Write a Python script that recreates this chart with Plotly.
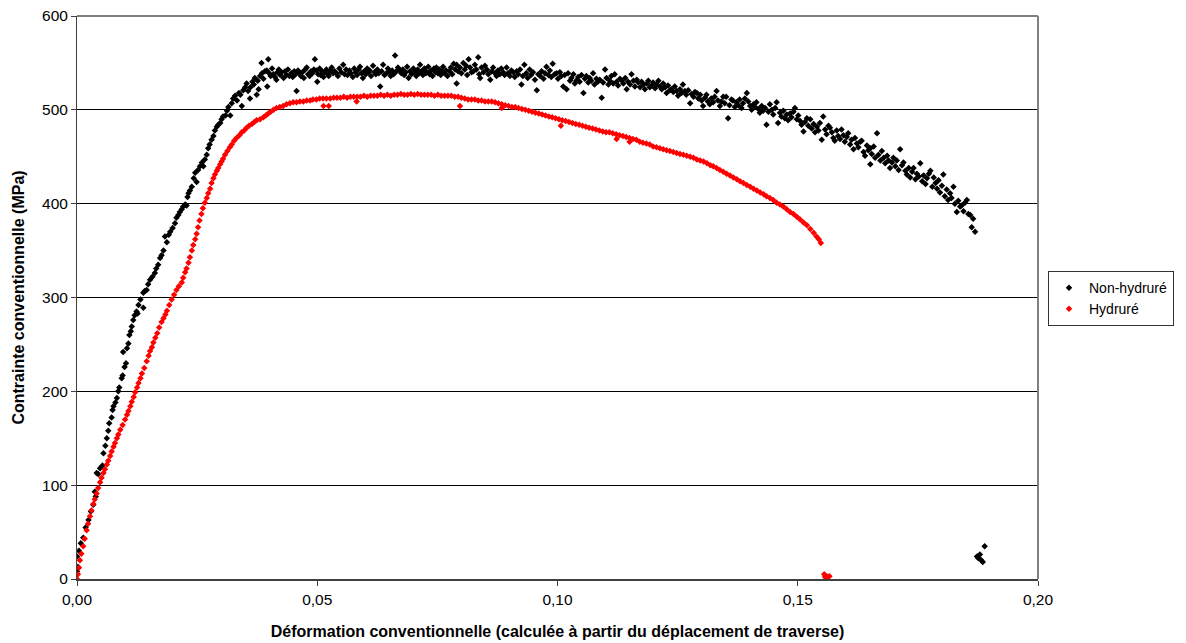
import plotly.graph_objects as go

# ---- Non-hydruré (black) ----
nh_x = [0.0000, 0.0000, 0.0002, 0.0004, 0.0008, 0.0013, 0.0018, 0.0024, 0.0029, 0.0034,
        0.0037, 0.0039, 0.0041, 0.0044, 0.0048, 0.0053, 0.0055, 0.0059, 0.0062, 0.0065,
        0.0067, 0.0072, 0.0074, 0.0076, 0.0080, 0.0083, 0.0086, 0.0088, 0.0093, 0.0095,
        0.0096, 0.0099, 0.0102, 0.0104, 0.0107, 0.0109, 0.0112, 0.0114, 0.0117, 0.0120,
        0.0124, 0.0126, 0.0128, 0.0132, 0.0138, 0.0138, 0.0141, 0.0145, 0.0148, 0.0152,
        0.0157, 0.0162, 0.0165, 0.0169, 0.0173, 0.0176, 0.0180, 0.0183, 0.0187, 0.0191,
        0.0194, 0.0199, 0.0204, 0.0207, 0.0211, 0.0214, 0.0218, 0.0221, 0.0225, 0.0228,
        0.0230, 0.0232, 0.0235, 0.0239, 0.0243, 0.0246, 0.0249, 0.0252, 0.0256, 0.0260,
        0.0263, 0.0266, 0.0270, 0.0273, 0.0276, 0.0280, 0.0284, 0.0287, 0.0291, 0.0294,
        0.0298, 0.0301, 0.0304, 0.0309, 0.0312, 0.0315, 0.0319, 0.0322, 0.0325, 0.0329,
        0.0333, 0.0337, 0.0340, 0.0343, 0.0346, 0.0350, 0.0353, 0.0356, 0.0360, 0.0361,
        0.0365, 0.0368, 0.0370, 0.0374, 0.0376, 0.0378, 0.0381, 0.0384, 0.0385, 0.0388,
        0.0391, 0.0395, 0.0396, 0.0398, 0.0400, 0.0403, 0.0406, 0.0409, 0.0412, 0.0415,
        0.0417, 0.0420, 0.0423, 0.0426, 0.0430, 0.0433, 0.0436, 0.0439, 0.0442, 0.0446,
        0.0449, 0.0452, 0.0455, 0.0457, 0.0460, 0.0463, 0.0466, 0.0469, 0.0472, 0.0475,
        0.0478, 0.0481, 0.0484, 0.0487, 0.0490, 0.0493, 0.0495, 0.0498, 0.0500, 0.0502,
        0.0505, 0.0507, 0.0510, 0.0513, 0.0516, 0.0519, 0.0522, 0.0524, 0.0527, 0.0530,
        0.0533, 0.0536, 0.0540, 0.0543, 0.0546, 0.0550, 0.0554, 0.0557, 0.0560, 0.0563,
        0.0567, 0.0570, 0.0574, 0.0577, 0.0580, 0.0583, 0.0586, 0.0589, 0.0592, 0.0595,
        0.0598, 0.0601, 0.0604, 0.0607, 0.0609, 0.0612, 0.0616, 0.0619, 0.0622, 0.0625,
        0.0628, 0.0631, 0.0634, 0.0637, 0.0640, 0.0644, 0.0647, 0.0650, 0.0653, 0.0656,
        0.0659, 0.0662, 0.0665, 0.0668, 0.0672, 0.0675, 0.0678, 0.0681, 0.0684, 0.0687,
        0.0690, 0.0693, 0.0696, 0.0700, 0.0703, 0.0706, 0.0709, 0.0712, 0.0714, 0.0717,
        0.0720, 0.0723, 0.0726, 0.0728, 0.0731, 0.0734, 0.0737, 0.0740, 0.0743, 0.0746,
        0.0748, 0.0751, 0.0754, 0.0757, 0.0760, 0.0762, 0.0765, 0.0768, 0.0771, 0.0775,
        0.0778, 0.0781, 0.0784, 0.0787, 0.0790, 0.0790, 0.0793, 0.0797, 0.0800, 0.0804,
        0.0807, 0.0810, 0.0812, 0.0815, 0.0818, 0.0821, 0.0825, 0.0828, 0.0831, 0.0835,
        0.0837, 0.0839, 0.0842, 0.0846, 0.0849, 0.0853, 0.0856, 0.0860, 0.0863, 0.0866,
        0.0870, 0.0873, 0.0876, 0.0880, 0.0883, 0.0887, 0.0890, 0.0894, 0.0897, 0.0901,
        0.0904, 0.0908, 0.0911, 0.0915, 0.0918, 0.0922, 0.0925, 0.0928, 0.0931, 0.0935,
        0.0938, 0.0942, 0.0945, 0.0949, 0.0953, 0.0957, 0.0960, 0.0964, 0.0967, 0.0971,
        0.0974, 0.0977, 0.0981, 0.0984, 0.0987, 0.0990, 0.0994, 0.0998, 0.1001, 0.1005,
        0.1008, 0.1012, 0.1015, 0.1019, 0.1022, 0.1026, 0.1029, 0.1033, 0.1036, 0.1039,
        0.1043, 0.1046, 0.1050, 0.1054, 0.1057, 0.1060, 0.1064, 0.1067, 0.1070, 0.1074,
        0.1077, 0.1081, 0.1084, 0.1088, 0.1092, 0.1095, 0.1099, 0.1102, 0.1106, 0.1109,
        0.1112, 0.1116, 0.1119, 0.1123, 0.1126, 0.1130, 0.1134, 0.1137, 0.1141, 0.1144,
        0.1147, 0.1151, 0.1154, 0.1158, 0.1161, 0.1165, 0.1168, 0.1172, 0.1175, 0.1179,
        0.1182, 0.1186, 0.1189, 0.1192, 0.1196, 0.1199, 0.1203, 0.1206, 0.1210, 0.1213,
        0.1217, 0.1220, 0.1224, 0.1227, 0.1230, 0.1234, 0.1237, 0.1241, 0.1244, 0.1248,
        0.1251, 0.1255, 0.1258, 0.1261, 0.1265, 0.1268, 0.1272, 0.1276, 0.1279, 0.1283,
        0.1286, 0.1290, 0.1293, 0.1297, 0.1300, 0.1303, 0.1307, 0.1310, 0.1313, 0.1317,
        0.1320, 0.1324, 0.1327, 0.1331, 0.1334, 0.1338, 0.1341, 0.1345, 0.1348, 0.1351,
        0.1355, 0.1358, 0.1362, 0.1365, 0.1369, 0.1372, 0.1376, 0.1379, 0.1383, 0.1386,
        0.1390, 0.1394, 0.1397, 0.1401, 0.1404, 0.1408, 0.1411, 0.1414, 0.1418, 0.1421,
        0.1425, 0.1428, 0.1432, 0.1435, 0.1439, 0.1442, 0.1446, 0.1449, 0.1453, 0.1456,
        0.1459, 0.1463, 0.1466, 0.1470, 0.1473, 0.1477, 0.1480, 0.1484, 0.1487, 0.1491,
        0.1494, 0.1498, 0.1501, 0.1505, 0.1508, 0.1512, 0.1515, 0.1519, 0.1522, 0.1526,
        0.1529, 0.1533, 0.1536, 0.1540, 0.1543, 0.1546, 0.1550, 0.1553, 0.1557, 0.1560,
        0.1564, 0.1567, 0.1571, 0.1574, 0.1577, 0.1581, 0.1584, 0.1588, 0.1591, 0.1595,
        0.1598, 0.1602, 0.1605, 0.1609, 0.1612, 0.1616, 0.1619, 0.1623, 0.1626, 0.1630,
        0.1633, 0.1637, 0.1640, 0.1644, 0.1647, 0.1651, 0.1651, 0.1654, 0.1658, 0.1661,
        0.1665, 0.1668, 0.1672, 0.1675, 0.1679, 0.1682, 0.1686, 0.1689, 0.1692, 0.1696,
        0.1699, 0.1703, 0.1706, 0.1710, 0.1713, 0.1717, 0.1720, 0.1724, 0.1727, 0.1731,
        0.1734, 0.1738, 0.1741, 0.1745, 0.1748, 0.1752, 0.1755, 0.1759, 0.1762, 0.1766,
        0.1769, 0.1773, 0.1776, 0.1780, 0.1783, 0.1787, 0.1790, 0.1793, 0.1796, 0.1800,
        0.1803, 0.1806, 0.1810, 0.1813, 0.1817, 0.1820, 0.1824, 0.1827, 0.1831, 0.1834,
        0.1838, 0.1841, 0.1845, 0.1848, 0.1852, 0.1855, 0.1859, 0.1862, 0.1865, 0.1869,
        0.1873, 0.1876, 0.1879, 0.1882, 0.1885, 0.1889]
nh_y = [8, 24, 13, 30, 38, 44, 55, 63, 72, 79,
        93, 88, 113, 112, 118, 121, 134, 142, 150, 158,
        166, 172, 180, 184, 188, 193, 200, 204, 214, 217,
        242, 226, 230, 246, 251, 260, 264, 269, 276, 281,
        285, 283, 292, 298, 289, 305, 307, 308, 314, 319,
        322, 326, 331, 335, 342, 345, 350, 365, 359, 367,
        370, 374, 379, 385, 388, 391, 394, 397, 399, 398,
        407, 411, 414, 418, 427, 433, 423, 436, 440, 444,
        440, 447, 452, 459, 463, 468, 472, 478, 482, 484,
        486, 490, 493, 494, 499, 503, 494, 507, 512, 515,
        510, 518, 516, 504, 521, 524, 528, 520, 512, 524,
        530, 527, 534, 516, 531, 522, 536, 550, 539, 533,
        541, 542, 525, 554, 539, 536, 544, 538, 535, 532,
        540, 543, 537, 540, 534, 541, 537, 543, 536, 539,
        535, 541, 538, 520, 542, 539, 536, 540, 534, 543,
        545, 538, 536, 541, 539, 543, 554, 542, 530, 538,
        544, 537, 541, 535, 540, 543, 538, 536, 542, 545,
        539, 541, 539, 536, 544, 540, 548, 538, 543, 537,
        542, 539, 535, 544, 540, 537, 543, 546, 539, 534,
        541, 538, 544, 540, 542, 536, 547, 540, 538, 543,
        539, 525, 541, 548, 537, 539, 544, 540, 536, 542,
        538, 558, 541, 545, 542, 539, 543, 537, 540, 546,
        534, 541, 538, 544, 540, 536, 543, 539, 548, 541,
        537, 544, 539, 540, 546, 538, 542, 536, 544, 540,
        545, 539, 543, 537, 541, 546, 539, 542, 536, 541,
        545, 538, 549, 543, 528, 548, 541, 545, 539, 550,
        543, 547, 537, 554, 545, 540, 541, 548, 543, 556,
        538, 534, 545, 540, 547, 543, 538, 532, 541, 545,
        539, 536, 542, 538, 544, 540, 537, 545, 539, 536,
        542, 540, 535, 541, 538, 543, 527, 536, 548, 539,
        534, 543, 537, 540, 532, 521, 538, 536, 541, 533,
        539, 546, 537, 542, 535, 549, 538, 539, 533, 540,
        536, 525, 537, 522, 539, 531, 534, 538, 528, 531,
        535, 530, 537, 518, 533, 536, 529, 534, 531, 539,
        527, 533, 530, 532, 513, 529, 543, 534, 527, 531,
        536, 528, 538, 530, 526, 533, 531, 528, 534, 522,
        530, 527, 538, 531, 525, 532, 529, 524, 530, 527,
        522, 528, 531, 524, 526, 529, 523, 527, 531, 525,
        522, 528, 524, 518, 526, 521, 522, 519, 525, 520,
        515, 522, 518, 527, 520, 516, 521, 507, 517, 514,
        519, 518, 512, 516, 510, 504, 513, 516, 509, 506,
        512, 508, 514, 520, 510, 504, 509, 514, 507, 514,
        491, 505, 511, 510, 503, 508, 505, 511, 502, 507,
        512, 518, 509, 504, 500, 506, 503, 508, 501, 497,
        504, 499, 502, 484, 498, 506, 500, 495, 502, 508,
        486, 497, 493, 499, 491, 495, 489, 496, 492, 498,
        502, 490, 494, 488, 484, 477, 487, 491, 483, 490,
        480, 485, 476, 482, 478, 486, 468, 493, 479, 474,
        483, 481, 476, 470, 467, 478, 472, 469, 479, 473,
        466, 471, 475, 463, 468, 458, 470, 464, 460, 466,
        467, 455, 451, 462, 457, 459, 442, 453, 461, 449,
        475, 452, 446, 456, 449, 443, 451, 446, 438, 444,
        449, 440, 446, 436, 458, 441, 444, 435, 431, 438,
        428, 434, 438, 426, 432, 429, 443, 424, 430, 421,
        427, 432, 435, 418, 428, 422, 416, 425, 412, 419,
        431, 408, 415, 404, 411, 406, 418, 400, 391, 403,
        397, 398, 392, 401, 404, 389, 388, 375, 384, 370,
        24, 22, 26, 20, 18, 35]

# ---- Hydruré (red) ----
h_x = [0.0000, 0.0002, 0.0004, 0.0006, 0.0009, 0.0013, 0.0016, 0.0020, 0.0023, 0.0027,
       0.0030, 0.0034, 0.0037, 0.0041, 0.0044, 0.0048, 0.0051, 0.0055, 0.0058, 0.0062,
       0.0065, 0.0069, 0.0072, 0.0076, 0.0079, 0.0083, 0.0086, 0.0090, 0.0095, 0.0100,
       0.0104, 0.0107, 0.0111, 0.0114, 0.0118, 0.0121, 0.0125, 0.0128, 0.0132, 0.0135,
       0.0140, 0.0145, 0.0149, 0.0152, 0.0156, 0.0159, 0.0163, 0.0167, 0.0171, 0.0176,
       0.0180, 0.0184, 0.0187, 0.0192, 0.0197, 0.0202, 0.0207, 0.0212, 0.0218, 0.0221,
       0.0225, 0.0228, 0.0232, 0.0235, 0.0239, 0.0242, 0.0246, 0.0249, 0.0252, 0.0255,
       0.0259, 0.0262, 0.0266, 0.0270, 0.0273, 0.0277, 0.0280, 0.0284, 0.0287, 0.0291,
       0.0294, 0.0298, 0.0301, 0.0304, 0.0308, 0.0313, 0.0318, 0.0322, 0.0327, 0.0332,
       0.0338, 0.0343, 0.0348, 0.0353, 0.0358, 0.0364, 0.0369, 0.0374, 0.0381, 0.0388,
       0.0393, 0.0398, 0.0403, 0.0409, 0.0415, 0.0422, 0.0429, 0.0436, 0.0443, 0.0450,
       0.0457, 0.0464, 0.0471, 0.0478, 0.0485, 0.0491, 0.0498, 0.0505, 0.0513, 0.0512,
       0.0519, 0.0524, 0.0527, 0.0534, 0.0541, 0.0548, 0.0555, 0.0562, 0.0569, 0.0576,
       0.0582, 0.0583, 0.0590, 0.0597, 0.0604, 0.0611, 0.0618, 0.0625, 0.0632, 0.0639,
       0.0646, 0.0653, 0.0660, 0.0667, 0.0674, 0.0681, 0.0688, 0.0695, 0.0702, 0.0709,
       0.0716, 0.0723, 0.0730, 0.0737, 0.0744, 0.0751, 0.0758, 0.0765, 0.0772, 0.0779,
       0.0786, 0.0797, 0.0793, 0.0800, 0.0807, 0.0814, 0.0821, 0.0828, 0.0835, 0.0842,
       0.0849, 0.0856, 0.0863, 0.0870, 0.0877, 0.0884, 0.0884, 0.0891, 0.0898, 0.0905,
       0.0912, 0.0919, 0.0926, 0.0933, 0.0940, 0.0947, 0.0954, 0.0961, 0.0968, 0.0975,
       0.0982, 0.0989, 0.0996, 0.1003, 0.1007, 0.1010, 0.1017, 0.1024, 0.1031, 0.1038,
       0.1045, 0.1052, 0.1059, 0.1066, 0.1073, 0.1080, 0.1087, 0.1094, 0.1101, 0.1108,
       0.1115, 0.1123, 0.1122, 0.1129, 0.1136, 0.1143, 0.1150, 0.1150, 0.1157, 0.1164,
       0.1171, 0.1178, 0.1185, 0.1192, 0.1199, 0.1206, 0.1213, 0.1220, 0.1227, 0.1234,
       0.1241, 0.1248, 0.1255, 0.1262, 0.1269, 0.1276, 0.1283, 0.1290, 0.1297, 0.1304,
       0.1311, 0.1318, 0.1324, 0.1331, 0.1338, 0.1345, 0.1352, 0.1359, 0.1366, 0.1373,
       0.1380, 0.1387, 0.1394, 0.1401, 0.1408, 0.1415, 0.1422, 0.1429, 0.1435, 0.1442,
       0.1449, 0.1456, 0.1463, 0.1470, 0.1477, 0.1484, 0.1491, 0.1498, 0.1505, 0.1512,
       0.1519, 0.1526, 0.1533, 0.1539, 0.1544, 0.1548,
       0.1555, 0.1557, 0.1560, 0.1563, 0.1566]
h_y = [0, 5, 12, 20, 27, 35, 43, 52, 59, 67,
       73, 80, 85, 91, 97, 103, 108, 113, 117, 122,
       126, 131, 136, 141, 145, 150, 154, 159, 164, 170,
       175, 179, 184, 189, 194, 199, 204, 209, 214, 219,
       225, 232, 238, 243, 247, 252, 257, 262, 268, 274,
       278, 282, 286, 292, 298, 303, 308, 312, 316, 321,
       327, 331, 337, 343, 350, 356, 362, 368, 375, 382,
       389, 395, 401, 406, 411, 416, 422, 427, 431, 435,
       438, 442, 445, 448, 452, 456, 460, 463, 467, 470,
       473, 476, 478, 481, 483, 485, 487, 489, 490, 492,
       494, 496, 498, 500, 502, 503, 504, 506, 507, 508,
       508, 509, 509, 510, 510, 511, 511, 512, 504, 512,
       512, 504, 512, 513, 513, 513, 514, 513, 514, 514,
       509, 514, 514, 515, 514, 515, 515, 515, 516, 515,
       516, 515, 516, 516, 517, 516, 516, 517, 516, 517,
       516, 516, 516, 516, 515, 516, 515, 515, 515, 515,
       514, 504, 514, 513, 512, 511, 511, 511, 510, 510,
       509, 509, 509, 508, 507, 502, 506, 505, 504, 503,
       503, 502, 501, 500, 499, 498, 497, 496, 495, 494,
       493, 492, 491, 490, 483, 489, 488, 487, 486, 485,
       484, 483, 482, 481, 480, 479, 478, 477, 476, 476,
       475, 469, 474, 473, 472, 471, 466, 470, 469, 468,
       466, 465, 464, 463, 461, 460, 459, 458, 457, 456,
       455, 454, 453, 452, 451, 450, 449, 447, 446, 445,
       443, 441, 440, 438, 436, 434, 432, 430, 428, 426,
       424, 422, 420, 418, 416, 414, 412, 410, 408, 406,
       404, 401, 399, 397, 394, 391, 389, 386, 383, 380,
       377, 373, 369, 365, 362, 358,
       5, 2, 3, 2, 3]

series_names = ["Non-hydruré", "Hydruré"]
series_colors = ["#000000", "#FF0000"]

x_title = "Déformation conventionnelle (calculée à partir du déplacement de traverse)"
y_title = "Contrainte conventionnelle (MPa)"
x_ticks = [0, 0.05, 0.10, 0.15, 0.20]
y_ticks = [0, 100, 200, 300, 400, 500, 600]

FONT = "Liberation Sans, Arial, sans-serif"

fig = go.Figure()
for name, xs, ys, col in [(series_names[0], nh_x, nh_y, series_colors[0]),
                          (series_names[1], h_x, h_y, series_colors[1])]:
    fig.add_trace(go.Scatter(
        x=xs, y=ys, mode="markers", name=name,
        marker=dict(symbol="diamond", size=5, color=col, line=dict(width=0)),
    ))

# the page body adds an 8px offset; margins are chosen so the plot area
# lands at x 77..1038, y 16..579 of the window
fig.update_layout(
    width=1178, height=635,
    margin=dict(l=69, r=148, t=8, b=64, autoexpand=False),
    paper_bgcolor="white", plot_bgcolor="white",
    separators=", ",
    font=dict(family=FONT, size=15, color="black"),
    showlegend=True,
    legend=dict(
        x=1.0104, y=0.547, xanchor="left", yanchor="top",
        bgcolor="white", bordercolor="#333333", borderwidth=1,
        font=dict(family=FONT, size=14, color="black"),
        tracegroupgap=2,
    ),
    xaxis=dict(
        range=[0, 0.2], tickvals=x_ticks, tickformat=".2f",
        showgrid=False, zeroline=False, automargin=False,
        ticklabeloverflow="allow",
        showline=True, linecolor="#404040", linewidth=2,
        ticks="outside", ticklen=5, tickcolor="#404040", tickwidth=1,
        tickfont=dict(family=FONT, size=15.5, color="black"),
        title=dict(text="<b>" + x_title + "</b>", font=dict(family=FONT, size=16), standoff=19),
    ),
    yaxis=dict(
        range=[0, 600], tickvals=y_ticks,
        showgrid=True, gridcolor="#000000", gridwidth=1,
        zeroline=False, automargin=False,
        ticklabeloverflow="allow",
        showline=True, linecolor="#404040", linewidth=1,
        ticks="outside", ticklen=5, tickcolor="#404040", tickwidth=1,
        tickfont=dict(family=FONT, size=15.5, color="black"),
        title=dict(text="<b>" + y_title + "</b>", font=dict(family=FONT, size=16), standoff=13),
    ),
)

# plot-area border (top and right), grey like the original frame
fig.add_shape(type="line", xref="x domain", yref="y domain", x0=0, x1=1, y0=1, y1=1,
              line=dict(color="#808080", width=2), layer="above")
fig.add_shape(type="line", xref="x domain", yref="y domain", x0=1, x1=1, y0=0, y1=1,
              line=dict(color="#808080", width=2), layer="above")

fig.write_html("out.html")
